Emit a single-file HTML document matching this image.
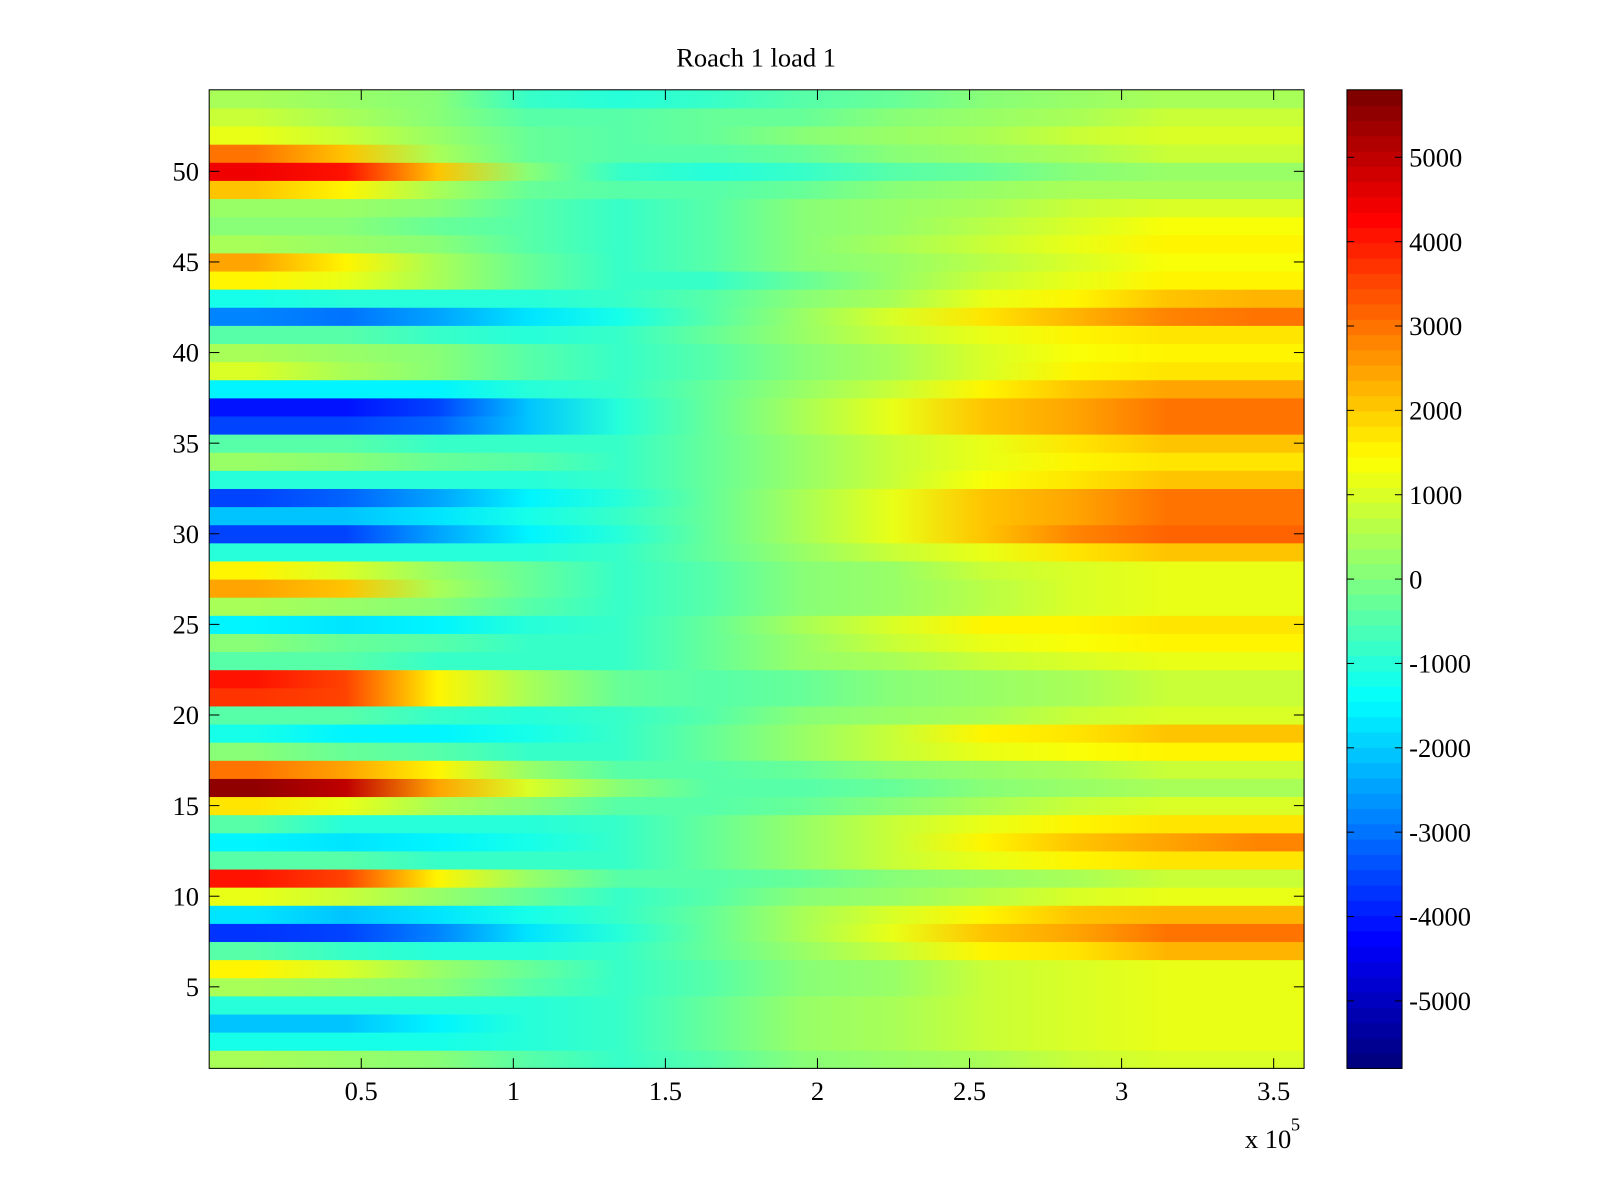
<!DOCTYPE html>
<html><head><meta charset="utf-8"><title>Roach 1 load 1</title>
<style>
html,body{margin:0;padding:0;background:#fff;}
svg{display:block;font-family:"Liberation Serif",serif;}
</style></head>
<body>
<svg id="chart" width="1600" height="1200" viewBox="0 0 1600 1200" xmlns="http://www.w3.org/2000/svg">
<defs id="defs"></defs>
<g transform="scale(1.020408)">
<text x="741" y="65" font-size="26" text-anchor="middle">Roach 1 load 1</text>
<g id="cells"></g>
<g id="axes"></g>
<g id="cbar"></g>
</g>
</svg>
<script>
// x segment centers (in units), 12 segments each 30000 wide
const xSegments = [15000,45000,75000,105000,135000,165000,195000,225000,255000,285000,315000,345000];
const xTicks = [0.5,1,1.5,2,2.5,3,3.5];
const yTicks = [5,10,15,20,25,30,35,40,45,50];
const cTicks = [-5000,-4000,-3000,-2000,-1000,0,1000,2000,3000,4000,5000];
// row values (thousands), row 54 (top) first down to row 1
const row54=[0.5,0.3,0,-0.8,-1,-0.8,-0.5,-0.3,0,0.3,0.5,0.5];
const row53=[0.8,0.5,0,-0.5,-0.5,-0.3,-0.2,0,0.3,0.5,0.8,0.8];
const row52=[1.2,0.8,0.2,-0.3,-0.5,-0.3,0,0.2,0.5,0.8,1,1];
const row51=[3,2,0.5,-0.3,-0.5,-0.5,-0.3,0,0.3,0.5,0.8,0.8];
const row50=[4.5,4,2,0,-0.8,-1,-0.8,-0.5,-0.2,0,0.3,0.3];
const row49=[2,1.5,0.5,-0.2,-0.5,-0.5,-0.3,0,0.3,0.5,0.5,0.5];
const row48=[0.3,0.2,0,-0.5,-0.8,-0.5,0,0.3,0.5,0.8,1,1];
const row47=[0,0,-0.3,-0.5,-0.8,-0.5,0,0.3,0.7,1,1.3,1.3];
const row46=[0.5,0.3,0,-0.5,-0.8,-0.5,0,0.5,0.8,1.2,1.5,1.5];
const row45=[2.5,1.5,0.5,-0.3,-0.8,-0.5,0,0.3,0.7,1,1.3,1.3];
const row44=[1.5,1.2,0.5,-0.3,-0.8,-0.8,-0.3,0.3,0.8,1.2,1.5,1.5];
const row43=[-1.2,-1,-1,-1,-0.8,-0.5,0,0.5,1.2,1.5,2,2.2];
const row42=[-2.8,-3,-2.5,-1.8,-1.2,-0.5,0.3,1,1.8,2.3,2.8,3];
const row41=[-0.5,-0.5,-0.8,-1,-0.8,-0.3,0.3,0.8,1.2,1.5,1.8,1.8];
const row40=[0.5,0.3,0,-0.5,-0.8,-0.5,0,0.5,1,1.3,1.5,1.5];
const row39=[1,0.5,0,-0.5,-0.8,-0.5,0,0.5,1,1.5,1.8,1.8];
const row38=[-1.5,-1.5,-1.5,-1,-0.8,-0.3,0.3,0.8,1.5,2,2.5,2.5];
const row37=[-4,-4,-3.5,-2,-1,-0.3,0.5,1.2,2,2.5,3,3];
const row36=[-3.5,-3.5,-3.2,-2,-1,-0.3,0.5,1.2,2,2.5,3,3];
const row35=[-0.5,-0.5,-0.8,-0.8,-0.8,-0.3,0.3,0.8,1.2,1.8,2,2];
const row34=[0.3,0,-0.3,-0.5,-0.8,-0.3,0.3,0.8,1.2,1.5,1.8,1.8];
const row33=[-1,-1,-1,-1,-0.8,-0.3,0.3,0.8,1.3,1.8,2,2];
const row32=[-3.5,-3.2,-2.5,-1.5,-1,-0.3,0.5,1.2,2,2.5,3,3];
const row31=[-2,-2,-1.8,-1.2,-0.8,-0.3,0.5,1.2,2,2.5,3,3];
const row30=[-3.5,-3.5,-2.5,-1.5,-1,-0.3,0.5,1.2,2,2.8,3.2,3.2];
const row29=[-1,-1,-1,-1,-0.8,-0.3,0.3,0.8,1.2,1.8,2,2];
const row28=[1.5,1,0.3,-0.3,-0.8,-0.5,0,0.3,0.8,1,1.2,1.2];
const row27=[2.5,2,0.5,-0.3,-0.8,-0.5,0,0.3,0.7,1,1.2,1.2];
const row26=[0.5,0.3,0,-0.5,-0.8,-0.5,0,0.3,0.7,1,1.2,1.2];
const row25=[-1.5,-1.8,-1.5,-1,-0.8,-0.3,0.5,1,1.5,1.5,1.8,1.8];
const row24=[0,-0.3,-0.5,-0.8,-0.8,-0.3,0.3,0.8,1.2,1.3,1.5,1.5];
const row23=[-0.5,-0.5,-0.8,-0.8,-0.8,-0.3,0.2,0.5,0.8,1,1.2,1.2];
const row22=[4,3.5,1.5,0.5,-0.3,-0.5,-0.3,0,0.3,0.5,0.8,0.8];
const row21=[3.8,3.5,1.5,0.5,-0.3,-0.5,-0.3,0,0.3,0.5,0.8,0.8];
const row20=[-0.5,-0.5,-0.8,-1,-0.8,-0.5,0,0.3,0.5,0.8,1,1];
const row19=[-1.2,-1.5,-1.5,-1.2,-0.8,-0.3,0.3,0.8,1.5,1.8,2,2];
const row18=[0,-0.3,-0.5,-0.8,-0.8,-0.3,0.3,0.8,1.2,1.3,1.5,1.5];
const row17=[3,2.5,1.5,0.3,-0.5,-0.5,-0.2,0,0.3,0.5,0.8,0.8];
const row16=[5.5,5,2.5,1,0,-0.5,-0.5,-0.3,0,0.3,0.5,0.5];
const row15=[1.8,1.2,0.5,0,-0.5,-0.5,-0.3,0,0.5,0.8,1,1];
const row14=[-0.5,-1,-1,-1,-0.8,-0.3,0.3,0.8,1.2,1.5,1.8,1.8];
const row13=[-1.5,-1.8,-1.5,-1.2,-0.8,-0.3,0.3,0.8,1.5,2,2.5,2.8];
const row12=[-0.5,-0.5,-0.8,-0.8,-0.8,-0.3,0.3,0.8,1.2,1.5,1.8,1.8];
const row11=[4,3.5,1.5,0.3,-0.5,-0.5,-0.3,0,0.3,0.5,0.8,0.8];
const row10=[1.2,0.8,0.3,-0.3,-0.8,-0.5,0,0.3,0.7,1,1.2,1.2];
const row9=[-1.8,-2,-1.8,-1.2,-0.8,-0.3,0.5,1,1.5,2,2.3,2.3];
const row8=[-3.8,-3.5,-2.8,-1.8,-1,-0.3,0.5,1.2,2,2.5,3,3];
const row7=[-0.5,-0.8,-1,-1,-0.8,-0.3,0.3,0.8,1.5,1.8,2.2,2.2];
const row6=[1.5,1,0.3,-0.3,-0.8,-0.5,0,0.3,0.8,1,1.2,1.2];
const row5=[0.5,0.3,0,-0.5,-0.8,-0.5,0,0.3,0.8,1,1.2,1.2];
const row4=[-1,-1,-1,-1,-0.8,-0.3,0.2,0.5,0.8,1,1.2,1.2];
const row3=[-2,-2,-1.5,-1,-0.8,-0.3,0.2,0.5,0.8,1,1.2,1.2];
const row2=[-1.2,-1.2,-1.2,-1,-0.8,-0.3,0.2,0.5,0.8,1,1.2,1.2];
const row1=[0.5,0.3,0,-0.5,-0.8,-0.5,0,0.3,0.5,0.8,1,1];
const rows=[row1,row2,row3,row4,row5,row6,row7,row8,row9,row10,row11,row12,row13,row14,row15,row16,row17,row18,row19,row20,row21,row22,row23,row24,row25,row26,row27,row28,row29,row30,row31,row32,row33,row34,row35,row36,row37,row38,row39,row40,row41,row42,row43,row44,row45,row46,row47,row48,row49,row50,row51,row52,row53,row54];

const NS="http://www.w3.org/2000/svg";
const L=205,R=1278,T=88,B=1047;
const xMax=360000, cMin=-5800, cMax=5800;
const xs=v=>L+(v/xMax)*(R-L);
const ys=r=>B-((r-0.5)/54)*(B-T);
function jet(t){
  t=Math.max(0,Math.min(1,t));
  t=Math.min(63,Math.floor(t*64))/63;
  const f=x=>Math.max(0,Math.min(1,x));
  const r=f(1.5-Math.abs(4*t-3)), g=f(1.5-Math.abs(4*t-2)), b=f(1.5-Math.abs(4*t-1));
  return `rgb(${Math.round(r*255)},${Math.round(g*255)},${Math.round(b*255)})`;
}
const cnorm=v=>(v-cMin)/(cMax-cMin);
function mk(tag,attrs,parent){const e=document.createElementNS(NS,tag);for(const k in attrs)e.setAttribute(k,attrs[k]);parent.appendChild(e);return e;}

const defs=document.getElementById('defs');
const cells=document.getElementById('cells');
rows.forEach((vals,i)=>{
  const r=i+1;
  const g=mk('linearGradient',{id:'g'+r,gradientUnits:'userSpaceOnUse',x1:L,x2:R,y1:0,y2:0},defs);
  vals.forEach((v,j)=>{
    const off=(xs(xSegments[j])-L)/(R-L);
    mk('stop',{offset:off,'stop-color':jet(cnorm(v*1000))},g);
  });
  const rect=mk('rect',{x:L,y:ys(r+0.5),width:R-L,height:ys(r-0.5)-ys(r+0.5)+0.5,fill:'url(#g'+r+')'},cells);
  
  
});

const axes=document.getElementById('axes');
const frame=mk('rect',{x:L,y:T,width:R-L,height:B-T,fill:'none',stroke:'#000','stroke-width':1},axes);


xTicks.forEach(v=>{
  const x=xs(v*100000);
  mk('line',{x1:x,x2:x,y1:B,y2:B-10,stroke:'#000'},axes);
  mk('line',{x1:x,x2:x,y1:T,y2:T+10,stroke:'#000'},axes);
  const t=mk('text',{x:x,y:1078,'font-size':26,'text-anchor':'middle'},axes);
  t.textContent=String(v);
  
  
});
yTicks.forEach(v=>{
  const y=ys(v);
  mk('line',{x1:L,x2:L+10,y1:y,y2:y,stroke:'#000'},axes);
  mk('line',{x1:R,x2:R-10,y1:y,y2:y,stroke:'#000'},axes);
  const t=mk('text',{x:195,y:y+9,'font-size':26,'text-anchor':'end'},axes);
  t.textContent=String(v);
  
  
});
const ex=mk('text',{x:1220,y:1125,'font-size':26},axes);
ex.textContent='x 10';


const ex2=mk('text',{x:1265,y:1108,'font-size':18},axes);
ex2.textContent='5';



const cb=document.getElementById('cbar');
const CL=1320,CR=1374;
const cy=v=>B-cnorm(v)*(B-T);
for(let k=0;k<64;k++){
  const y0=B-(k+1)/64*(B-T), y1=B-k/64*(B-T);
  const s=mk('rect',{x:CL,y:y0,width:CR-CL,height:y1-y0+0.6,fill:jet((k+0.5)/64)},cb);
  
  
}
mk('rect',{x:CL,y:T,width:CR-CL,height:B-T,fill:'none',stroke:'#000'},cb);
cTicks.forEach(v=>{
  const y=cy(v);
  mk('line',{x1:CL,x2:CL+7,y1:y,y2:y,stroke:'#000'},cb);
  mk('line',{x1:CR,x2:CR-7,y1:y,y2:y,stroke:'#000'},cb);
  const t=mk('text',{x:1381,y:y+9,'font-size':26},cb);
  t.textContent=String(v);
  
  
});
</script>
</body></html>
